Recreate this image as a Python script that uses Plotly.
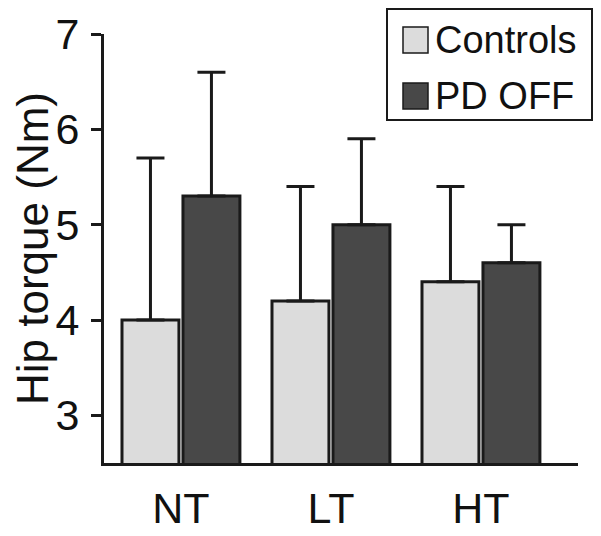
import plotly.graph_objects as go

categories = ["NT", "LT", "HT"]
series_names = ["Controls", "PD OFF"]
controls_mean = [4.0, 4.2, 4.4]
controls_sd = [1.7, 1.2, 1.0]
pd_mean = [5.3, 5.0, 4.6]
pd_sd = [1.3, 0.9, 0.4]
y_ticks = [3, 4, 5, 6, 7]

colors = ["#dcdcdc", "#484848"]
FONT = "Liberation Sans, Arial, sans-serif"

# the page body adds an 8px offset; figure size compensates for it
OFF = 8
W, H = 601 - OFF, 536 - OFF
L, R, T, B = 104 - OFF, 23, 34 - OFF, 73
pw, ph = W - L - R, H - T - B

def px(x):
    return (x - OFF - L) / pw

def py(y):
    return (H - B - (y - OFF)) / ph

fig = go.Figure()
for name, means, sds, col in [(series_names[0], controls_mean, controls_sd, colors[0]),
                              (series_names[1], pd_mean, pd_sd, colors[1])]:
    fig.add_trace(go.Bar(
        x=categories, y=means, name=name,
        marker=dict(color=col, line=dict(color="#1a1a1a", width=3)),
        error_y=dict(type="data", symmetric=False, array=sds,
                     arrayminus=[0] * len(sds), color="#1a1a1a",
                     thickness=3, width=14),
        showlegend=False,
    ))

fig.update_layout(
    width=W, height=H,
    margin=dict(l=L, r=R, t=T, b=B),
    paper_bgcolor="white", plot_bgcolor="white",
    barmode="group", bargap=0.187, bargroupgap=0.066,
    font=dict(family=FONT, color="#111111"),
)
fig.update_yaxes(
    range=[2.5, 7], tickvals=y_ticks, showgrid=False, zeroline=False,
    showline=True, linecolor="#1a1a1a", linewidth=3, automargin=False,
    ticks="outside", ticklen=10, tickwidth=3, tickcolor="#1a1a1a",
    tickfont=dict(size=43, family=FONT), ticklabelstandoff=3,
    title=dict(text="Hip torque (Nm)", font=dict(size=44, family=FONT), standoff=8),
)
fig.update_xaxes(
    range=[-0.513, 2.647], showgrid=False, zeroline=False, automargin=False,
    showline=True, linecolor="#1a1a1a", linewidth=3, ticks="",
    tickfont=dict(size=43, family=FONT), ticklabelstandoff=5,
)

# legend drawn as shapes + text
shapes = [dict(type="rect", xref="paper", yref="paper",
               x0=px(387), x1=px(592), y0=py(120), y1=py(9),
               line=dict(color="#1a1a1a", width=2), fillcolor="white", layer="above")]
annotations = []
for i, (name, col) in enumerate(zip(series_names, colors)):
    cy = 40 + i * 56
    shapes.append(dict(type="rect", xref="paper", yref="paper",
                       x0=px(403), x1=px(428), y0=py(cy + 13), y1=py(cy - 13),
                       line=dict(color="#1a1a1a", width=1.5), fillcolor=col, layer="above"))
    annotations.append(dict(xref="paper", yref="paper", x=px(433), y=py(cy),
                            xanchor="left", yanchor="middle", text=name, showarrow=False,
                            font=dict(size=38, family=FONT, color="#111111")))
fig.update_layout(shapes=shapes, annotations=annotations)

fig.write_html("out.html")
